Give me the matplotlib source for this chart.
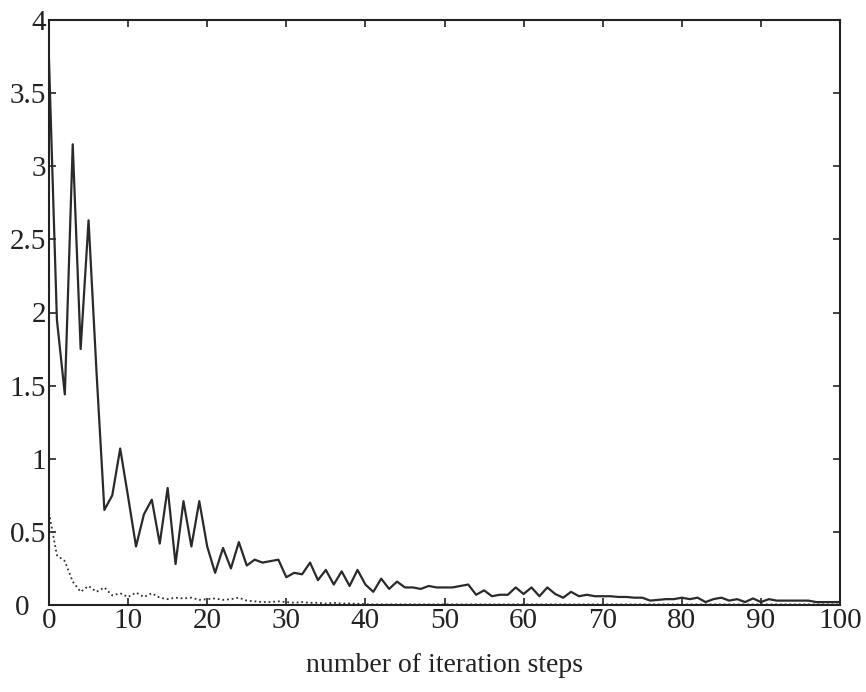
import numpy as np
import matplotlib
matplotlib.use("Agg")
import matplotlib.pyplot as plt
from matplotlib.transforms import ScaledTranslation

plt.rcParams['font.family'] = ['Liberation Serif', 'DejaVu Serif']

# =====================================================
#                 DATA
# =====================================================
steps = np.arange(0, 101)

solid_vals = [3.72, 1.95, 1.44, 3.15, 1.75, 2.63, 1.60, 0.65, 0.75, 1.07,
              0.74, 0.40, 0.62, 0.72, 0.42, 0.80, 0.28, 0.71, 0.40, 0.71,
              0.40, 0.22, 0.39, 0.25, 0.43, 0.27, 0.31, 0.29, 0.30, 0.31,
              0.19, 0.22, 0.21, 0.29, 0.17, 0.24, 0.14, 0.23, 0.13, 0.24,
              0.14, 0.09, 0.18, 0.11, 0.16, 0.12, 0.12, 0.11, 0.13, 0.12,
              0.12, 0.12, 0.13, 0.14, 0.07, 0.10, 0.06, 0.07, 0.07, 0.12,
              0.075, 0.12, 0.06, 0.12, 0.075, 0.05, 0.09, 0.06, 0.07, 0.06,
              0.06, 0.06, 0.055, 0.055, 0.05, 0.05, 0.03, 0.035, 0.04, 0.04,
              0.05, 0.04, 0.05, 0.02, 0.04, 0.05, 0.03, 0.04, 0.02, 0.045,
              0.02, 0.04, 0.03, 0.03, 0.03, 0.03, 0.03, 0.02, 0.02, 0.02,
              0.02]

dotted_vals = [0.63, 0.34, 0.30, 0.16, 0.09, 0.13, 0.09, 0.12, 0.065, 0.08,
               0.055, 0.085, 0.055, 0.08, 0.05, 0.04, 0.05, 0.045, 0.05, 0.035,
               0.04, 0.045, 0.035, 0.04, 0.05, 0.03, 0.025, 0.02, 0.02, 0.025,
               0.02, 0.015, 0.02, 0.015, 0.015, 0.01, 0.015, 0.01, 0.01, 0.008,
               0.005] + [0.004] * 60

xticks = [0, 10, 20, 30, 40, 50, 60, 70, 80, 90, 100]
yticks = [0, 0.5, 1, 1.5, 2, 2.5, 3, 3.5, 4]
ytick_labels = ['0', '0.5', '1', '1.5', '2', '2.5', '3', '3.5', '4']

# =====================================================
#                      PLOT
# =====================================================
fig = plt.figure(figsize=(8.66, 6.92), dpi=100)
ax = fig.add_axes([49/866, 87/692, 791/866, 585/692])

ax.plot(steps, solid_vals, color='#2a2a2a', linewidth=1.6)
ax.plot(steps, dotted_vals, color='#333333', linewidth=1.3, linestyle=(0, (1, 1.6)))

ax.set_xlim(0, 100)
ax.set_ylim(0, 4)
ax.set_xticks(xticks)
ax.set_xticklabels([str(t) for t in xticks])
ax.set_yticks(yticks)
ax.set_yticklabels(ytick_labels)

ax.tick_params(direction='in', length=5, width=1.2, top=True, right=True,
               labelsize=21, colors='#222222', pad=2)
for s in ax.spines.values():
    s.set_linewidth(1.5)
    s.set_color('#222222')

# the bottom "0" of the y axis sits a bit further left, as in the original
lab0 = ax.get_yticklabels()[0]
lab0.set_transform(lab0.get_transform() + ScaledTranslation(-12/72, 0, fig.dpi_scale_trans))

ax.set_xlabel("number of iteration steps", fontsize=20, labelpad=14, color='#222222')

fig.savefig("out.png", dpi=100)
